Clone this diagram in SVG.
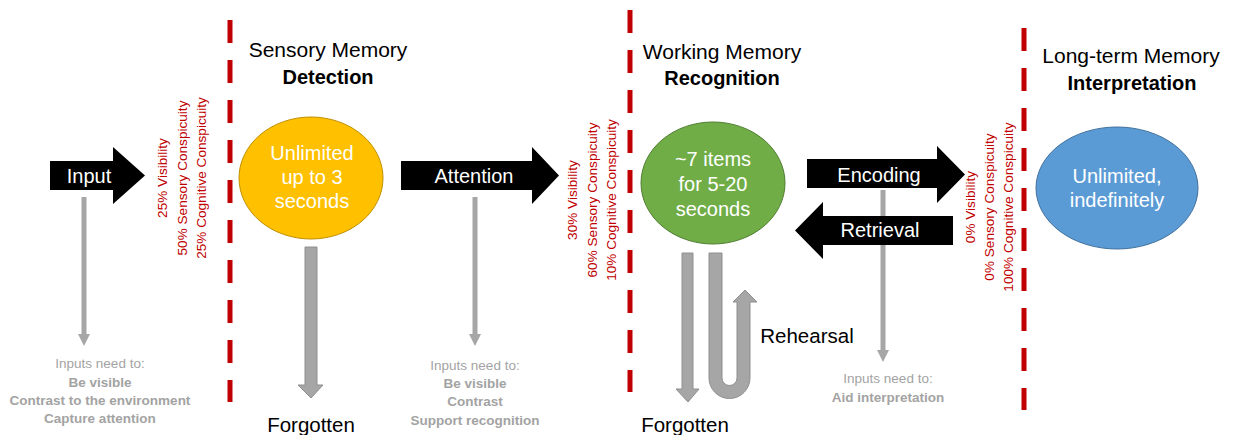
<svg xmlns="http://www.w3.org/2000/svg" width="1233" height="435" viewBox="0 0 1233 435">
<style>
text{font-family:"Liberation Sans",Arial,sans-serif}
.divider{stroke:#C00000;stroke-width:5;stroke-dasharray:23 17;fill:none}
.title{font-size:21px;fill:#000;text-anchor:middle}
.sub{font-size:20px;font-weight:bold;fill:#000;text-anchor:middle}
.red{font-size:13.6px;fill:#C00000;text-anchor:middle}
.note{font-size:13.5px;fill:#A3A3A3;text-anchor:middle}
.noteb{font-size:13.5px;fill:#A3A3A3;font-weight:bold;text-anchor:middle}
.big{fill:#000}
.wt{font-size:20px;fill:#fff;text-anchor:middle}
.thin{stroke:#A6A6A6;stroke-width:5;fill:none}
.thick{fill:#A6A6A6;stroke:#8F8F8F;stroke-width:1}
.lbl{font-size:20.5px;fill:#000;text-anchor:middle}
</style>
<defs>
<marker id="ah" viewBox="0 0 10 10" refX="5" refY="5" markerWidth="2.4" markerHeight="2.4" orient="auto" markerUnits="strokeWidth">
<path d="M0,0 L10,5 L0,10 Z" fill="#A6A6A6"/>
</marker>
</defs>

<g id="dividers">
<line class="divider" x1="230" y1="20" x2="230" y2="402"/>
<line class="divider" x1="630" y1="10" x2="630" y2="392"/>
<line class="divider" x1="1024" y1="28" x2="1024" y2="410"/>
</g>

<g id="titles">
<text class="title" x="328" y="57">Sensory Memory</text>
<text class="sub" x="328" y="84">Detection</text>
<text class="title" x="722" y="59">Working Memory</text>
<text class="sub" x="722" y="85">Recognition</text>
<text class="title" x="1131" y="63">Long-term Memory</text>
<text class="sub" x="1132" y="90">Interpretation</text>
</g>

<g id="conspicuity-1">
<text class="red" transform="translate(167,178) rotate(-90)">25% Visibility</text>
<text class="red" transform="translate(187,178) rotate(-90)">50% Sensory Conspicuity</text>
<text class="red" transform="translate(206,178) rotate(-90)">25% Cognitive Conspicuity</text>
</g>
<g id="conspicuity-2">
<text class="red" transform="translate(577,200) rotate(-90)">30% Visibility</text>
<text class="red" transform="translate(597,200) rotate(-90)">60% Sensory Conspicuity</text>
<text class="red" transform="translate(616,200) rotate(-90)">10% Cognitive Conspicuity</text>
</g>
<g id="conspicuity-3">
<text class="red" transform="translate(975,207) rotate(-90)">0% Visibility</text>
<text class="red" transform="translate(994,207) rotate(-90)">0% Sensory Conspicuity</text>
<text class="red" transform="translate(1013,207) rotate(-90)">100% Cognitive Conspicuity</text>
</g>

<g id="connectors">
<line class="thin" x1="84" y1="197" x2="84" y2="340" marker-end="url(#ah)"/>
<line class="thin" x1="475" y1="197" x2="475" y2="340" marker-end="url(#ah)"/>
<line class="thin" x1="883" y1="190" x2="883" y2="356" marker-end="url(#ah)"/>
<path class="thick" d="M305,247 L317,247 L317,385 L323,385 L311,398 L298,385 L305,385 Z"/>
<path class="thick" d="M682,253 L693,253 L693,389 L699,389 L688,402 L676,389 L682,389 Z"/>
<path class="thick" d="M709,253 L722,253 L722,378 A7.5,7.5 0 0 0 737,378 L737,302 L733,302 L745,290 L757,302 L750,302 L750,378 A20.5,20.5 0 0 1 709,378 Z"/>
</g>

<g id="input">
<path class="big" d="M50,161 L113,161 L113,147 L145,175.5 L113,204 L113,190 L50,190 Z"/>
<text class="wt" x="89" y="183">Input</text>
</g>
<g id="attention">
<path class="big" d="M401,161 L532,161 L532,147 L559,175.5 L532,204 L532,190 L401,190 Z"/>
<text class="wt" x="474" y="183">Attention</text>
</g>
<g id="encoding">
<path class="big" d="M807,159 L937,159 L937,146 L965,174.5 L937,203 L937,188 L807,188 Z"/>
<text class="wt" x="879" y="182">Encoding</text>
</g>
<g id="retrieval">
<path class="big" d="M953,216 L823,216 L823,202 L795,230.5 L823,259 L823,245 L953,245 Z"/>
<text class="wt" x="880" y="237">Retrieval</text>
</g>

<g id="sensory-memory">
<ellipse cx="311" cy="178" rx="72" ry="61" fill="#FFC000" stroke="#BF9000" stroke-width="1"/>
<text class="wt" x="312" y="160">Unlimited</text>
<text class="wt" x="312" y="184">up to 3</text>
<text class="wt" x="312" y="208">seconds</text>
</g>
<g id="working-memory">
<ellipse cx="713" cy="183" rx="72" ry="61" fill="#70AD47" stroke="#507E32" stroke-width="1"/>
<text class="wt" x="713" y="166">~7 items</text>
<text class="wt" x="713" y="191">for 5-20</text>
<text class="wt" x="713" y="216">seconds</text>
</g>
<g id="long-term-memory">
<ellipse cx="1117" cy="188" rx="81" ry="61" fill="#5B9BD5" stroke="#41719C" stroke-width="1"/>
<text class="wt" x="1117" y="183">Unlimited,</text>
<text class="wt" x="1117" y="207">indefinitely</text>
</g>

<g id="notes-1">
<text class="note" x="100" y="368">Inputs need to:</text>
<text class="noteb" x="100" y="387">Be visible</text>
<text class="noteb" x="100" y="405">Contrast to the environment</text>
<text class="noteb" x="100" y="423">Capture attention</text>
</g>
<g id="notes-2">
<text class="note" x="475" y="370">Inputs need to:</text>
<text class="noteb" x="475" y="388">Be visible</text>
<text class="noteb" x="475" y="406">Contrast</text>
<text class="noteb" x="475" y="425">Support recognition</text>
</g>
<g id="notes-3">
<text class="note" x="888" y="383">Inputs need to:</text>
<text class="noteb" x="888" y="402">Aid interpretation</text>
</g>

<g id="labels">
<text class="lbl" x="311" y="432">Forgotten</text>
<text class="lbl" x="685" y="432">Forgotten</text>
<text class="lbl" x="807" y="343">Rehearsal</text>
</g>
</svg>
